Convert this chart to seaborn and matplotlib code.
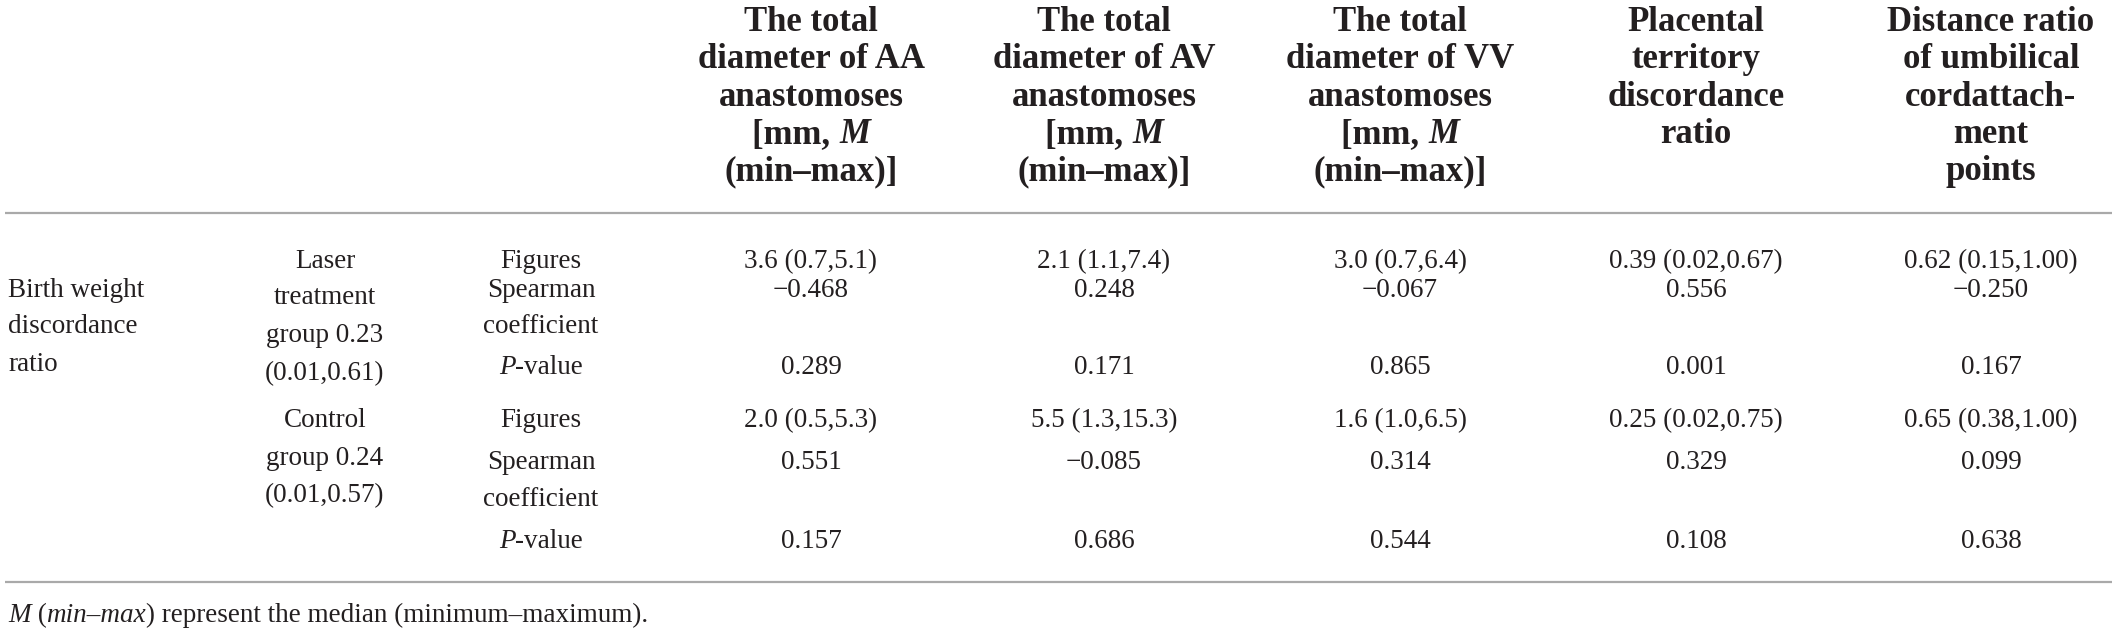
import matplotlib
matplotlib.use("Agg")
import matplotlib.pyplot as plt
import seaborn as sns

# ---------------- data ----------------
col_headers = [
    ["The total", "diameter of AA", "anastomoses", "[mm, |M", "(min–max)]"],
    ["The total", "diameter of AV", "anastomoses", "[mm, |M", "(min–max)]"],
    ["The total", "diameter of VV", "anastomoses", "[mm, |M", "(min–max)]"],
    ["Placental", "territory", "discordance", "ratio"],
    ["Distance ratio", "of umbilical", "cordattach-", "ment", "points"],
]
row_label = ["Birth weight", "discordance", "ratio"]
group_labels = [
    ["Laser", "treatment", "group 0.23", "(0.01,0.61)"],
    ["Control", "group 0.24", "(0.01,0.57)"],
]
stat_labels = [["Figures"], ["Spearman", "coefficient"], ["|P|-value"]]

aa_values = ["3.6 (0.7,5.1)", "−0.468", "0.289", "2.0 (0.5,5.3)", "0.551", "0.157"]
av_values = ["2.1 (1.1,7.4)", "0.248", "0.171", "5.5 (1.3,15.3)", "−0.085", "0.686"]
vv_values = ["3.0 (0.7,6.4)", "−0.067", "0.865", "1.6 (1.0,6.5)", "0.314", "0.544"]
ptd_values = ["0.39 (0.02,0.67)", "0.556", "0.001", "0.25 (0.02,0.75)", "0.329", "0.108"]
dist_values = ["0.62 (0.15,1.00)", "−0.250", "0.167", "0.65 (0.38,1.00)", "0.099", "0.638"]
all_values = [aa_values, av_values, vv_values, ptd_values, dist_values]

footnote = "|M| (|min–max|) represent the median (minimum–maximum)."

# ---------------- layout ----------------
W, H = 2117, 635
sns.set_theme(style="white")
plt.rcParams["font.family"] = ["Liberation Serif", "DejaVu Serif"]

fig = plt.figure(figsize=(W / 100, H / 100), dpi=100)
ax = fig.add_axes([0, 0, 1, 1])
ax.set_xlim(0, W)
ax.set_ylim(H, 0)
ax.axis("off")
renderer = fig.canvas.get_renderer()

HEAD_FS = 25
BODY_FS = 19.5
TXT = "#231f20"


def draw_runs(x, y, s, ha="center", fs=BODY_FS, bold=False):
    """Text with '|' toggling italic segments."""
    parts = s.split("|")
    texts, widths = [], []
    for i, p in enumerate(parts):
        if p == "":
            continue
        t = ax.text(0, y, p, fontsize=fs, va="baseline", ha="left",
                    fontweight="bold" if bold else "normal",
                    fontstyle="italic" if i % 2 == 1 else "normal", color=TXT)
        w = t.get_window_extent(renderer).width
        texts.append(t)
        widths.append(w)
    total = sum(widths)
    start = x - total / 2 if ha == "center" else x
    for t, w in zip(texts, widths):
        t.set_x(start)
        start += w


col_x = [811, 1104, 1400, 1696, 1991]
head_base = [31, 68, 106, 143, 180]
for cx, lines in zip(col_x, col_headers):
    for yb, line in zip(head_base, lines):
        draw_runs(cx, yb, line, fs=HEAD_FS, bold=True)

# rules
ax.hlines([213, 582], 5, 2112, color="#a9a9a9", linewidth=1.6)

# first column
for yb, line in zip([297, 333, 371], row_label):
    draw_runs(8, yb, line, ha="left")

# group labels
group_base = [[268, 304, 342, 380], [427, 465, 502]]
for lines, bases in zip(group_labels, group_base):
    for yb, line in zip(bases, lines):
        draw_runs(325, yb, line)

# statistic labels
stat_base = [[[268], [297, 333], [374]], [[427], [469, 506], [548]]]
for g in range(2):
    for lab, bases in zip(stat_labels, stat_base[g]):
        for yb, line in zip(bases, lab):
            draw_runs(541, yb, line)

# values
val_base = [268, 297, 374, 427, 469, 548]
for cx, vals in zip(col_x, all_values):
    for yb, v in zip(val_base, vals):
        draw_runs(cx, yb, v)

draw_runs(8, 622, footnote, ha="left")

fig.savefig("out.png", dpi=100, facecolor="white")
